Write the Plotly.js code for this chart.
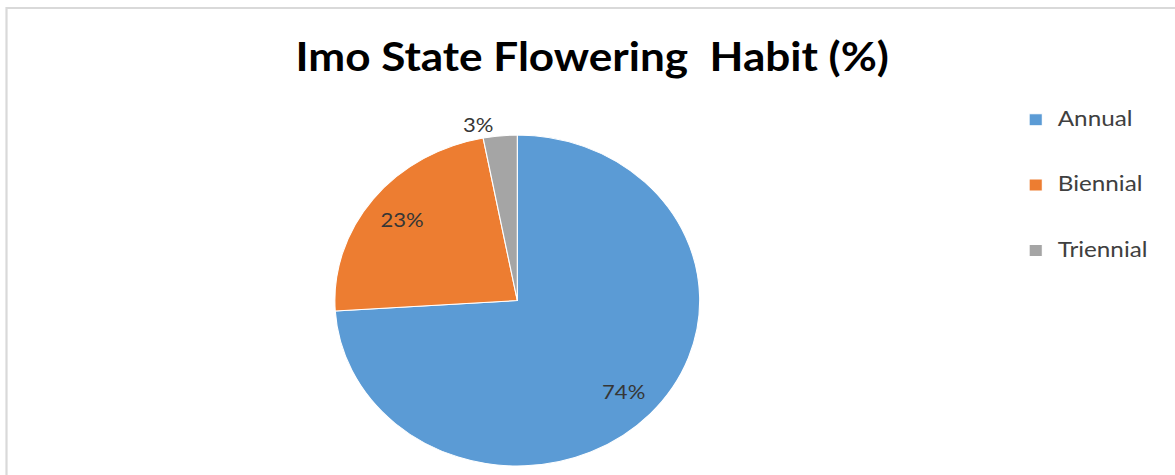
<!DOCTYPE html>
<html>
<head>
<meta charset="utf-8">
<script src="https://cdn.plot.ly/plotly-3.0.1.min.js"></script>
<style>
  html, body { margin: 0; padding: 0; background: #ffffff; overflow: hidden; }
  #chart { width: 1066px; height: 475px; transform: scaleX(1.10225); transform-origin: 0 0; }
</style>
</head>
<body>
<div id="chart"></div>
<script>
const categories = ['Annual', 'Biennial', 'Triennial'];
const percentages = [74, 23, 3];
const sliceColors = ['#5b9bd5', '#ed7d31', '#a5a5a5'];
const labelPositions = ['inside', 'inside', 'outside'];
const chartTitle = 'Imo State Flowering&nbsp; Habit (%)';

const legendLabels = categories.map(c => '<span style="font-size:22px">' + c + '</span><br>&nbsp;<br>&nbsp;');
const pieDomain = { x: [0.285, 0.5955], y: [0.0189, 0.7158] };

// The filled slices (and the legend)
const slices = {
  type: 'pie',
  labels: legendLabels,
  values: percentages,
  customdata: categories,
  sort: false,
  direction: 'clockwise',
  rotation: 0,
  marker: { colors: sliceColors, line: { color: '#ffffff', width: 1 } },
  textinfo: 'none',
  hovertemplate: '%{customdata}: %{value}%<extra></extra>',
  domain: pieDomain
};

// Transparent ring carrying the data labels, so they sit out towards the rim
const labelRing = {
  type: 'pie',
  labels: legendLabels,
  values: percentages,
  sort: false,
  direction: 'clockwise',
  rotation: 0,
  hole: 0.6,
  showlegend: false,
  marker: { colors: ['rgba(0,0,0,0)', 'rgba(0,0,0,0)', 'rgba(0,0,0,0)'], line: { width: 0 } },
  texttemplate: '%{value}%',
  textposition: labelPositions,
  insidetextorientation: 'horizontal',
  textfont: { family: 'Lato, sans-serif', size: 20, color: '#363636' },
  hoverinfo: 'skip',
  domain: pieDomain
};

const layout = {
  width: 1066,
  height: 475,
  margin: { l: 0, r: 0, t: 0, b: 0 },
  paper_bgcolor: '#ffffff',
  font: { family: 'Lato, sans-serif', color: '#404040' },
  title: {
    text: chartTitle,
    font: { family: 'Lato, sans-serif', size: 40, color: '#000000', weight: 'bold' },
    x: 0.504, xanchor: 'center',
    y: 0.88, yanchor: 'middle'
  },
  showlegend: true,
  legend: {
    x: 0.8627, xanchor: 'left',
    y: 0.7837, yanchor: 'top',
    valign: 'top',
    font: { family: 'Lato, sans-serif', size: 16, color: '#404040' },
    bgcolor: 'rgba(0,0,0,0)'
  },
  shapes: [{
    type: 'rect', xref: 'paper', yref: 'paper',
    x0: 5.9 / 1066, x1: 1.05, y0: -0.05, y1: (475 - 8) / 475,
    line: { color: '#d9d9d9', width: 2 }, fillcolor: 'rgba(0,0,0,0)'
  }]
};

Plotly.newPlot('chart', [slices, labelRing], layout, { displayModeBar: false, staticPlot: true });
</script>
</body>
</html>
